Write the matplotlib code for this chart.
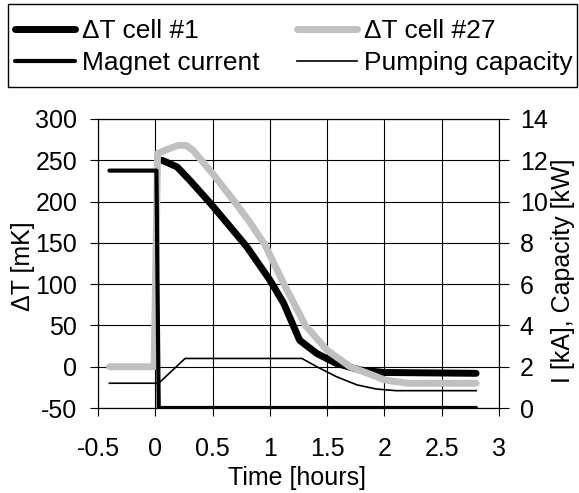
import matplotlib
matplotlib.use('Agg')
import matplotlib.pyplot as plt
from matplotlib.patches import Rectangle

plt.rcParams['font.family'] = ['Liberation Sans', 'DejaVu Sans']
plt.rcParams['axes.unicode_minus'] = False

# ---- data ----
# dT cell #1 [mK]
t_cell1 = [0.06, 0.19, 0.30, 0.48, 0.65, 0.80, 1.00, 1.12, 1.26, 1.41, 1.58, 1.79, 2.00, 2.80]
dT_cell1 = [250, 242, 226, 198, 170, 145, 105, 77, 32, 16, 4, -4, -7, -8]

# dT cell #27 [mK]
t_cell27 = [-0.40, -0.01, 0.02, 0.10, 0.20, 0.27, 0.33, 0.50, 0.68, 0.83, 0.96, 1.12,
            1.31, 1.50, 1.70, 1.93, 2.00, 2.20, 2.80]
dT_cell27 = [0, 0, 258, 263, 268, 268, 262, 234, 202, 174, 147, 101,
             50, 20, 0, -12, -16, -20, -20]

# magnet current [kA]
t_mag = [-0.40, 0.01, 0.03, 2.80]
i_mag = [11.5, 11.5, 0.0, 0.0]

# pumping capacity [kW]
t_pump = [-0.40, 0.03, 0.26, 1.28, 1.41, 1.58, 1.76, 1.93, 2.10, 2.80]
p_pump = [1.2, 1.2, 2.4, 2.4, 2.0, 1.52, 1.12, 0.92, 0.84, 0.84]

fs = 18
W, H = 579, 493

fig = plt.figure(figsize=(5.79, 4.93), dpi=100)
ax = fig.add_axes([98 / W, 1 - 408 / H, (499 - 98) / W, (408 - 119) / H])
ax2 = ax.twinx()

l1, = ax.plot(t_cell1, dT_cell1, color='black', lw=5, solid_capstyle='round')
l2, = ax.plot(t_cell27, dT_cell27, color='#c0c0c0', lw=5, solid_capstyle='round')
l3, = ax2.plot(t_mag, i_mag, color='black', lw=3, solid_capstyle='round')
l4, = ax2.plot(t_pump, p_pump, color='black', lw=1.2)

ax.set_xlim(-0.5, 3)
ax.set_ylim(-50, 300)
ax2.set_ylim(0, 14)
ax.set_xticks([-0.5, 0, 0.5, 1, 1.5, 2, 2.5, 3])
ax.set_xticklabels(['-0.5', '0', '0.5', '1', '1.5', '2', '2.5', '3'])
ax.set_yticks(range(-50, 301, 50))
ax2.set_yticks(range(0, 15, 2))

ax.grid(True, color='black', lw=0.8)
for a in (ax, ax2):
    for s in a.spines.values():
        s.set_color('black')
        s.set_linewidth(0.8)
ax.tick_params(axis='x', direction='out', length=6, width=0.8, pad=15, labelsize=fs)
ax.tick_params(axis='y', direction='out', length=6, width=0.8, pad=9, labelsize=fs)
ax2.tick_params(axis='y', direction='out', length=7, width=0.8, pad=8, labelsize=fs)

fig.text(23 / W, 1 - 266 / H, '\u0394T [mK]', rotation=90, ha='center', va='center', fontsize=fs)
fig.text(563 / W, 1 - 271 / H, 'I [kA], Capacity [kW]', rotation=90, ha='center', va='center', fontsize=fs)
fig.text(297 / W, 1 - 478 / H, 'Time [hours]', ha='center', va='center', fontsize=fs)

# legend box (frame drawn separately, Excel style)
fig.add_artist(Rectangle((8 / W, 1 - 87 / H), (577 - 8) / W, (87 - 4) / H,
                         transform=fig.transFigure, fill=False, edgecolor='black', lw=1.0))
leg = fig.legend([l1, l3, l2, l4],
                 ['\u0394T cell #1', 'Magnet current', '\u0394T cell #27', 'Pumping capacity'],
                 ncol=2, loc='upper left', bbox_to_anchor=(15 / W, 1 - 19 / H),
                 borderaxespad=0, borderpad=0, frameon=False,
                 fontsize=19, handlelength=2.27, handletextpad=0.25,
                 labelspacing=0.3, columnspacing=1.45)

fig.savefig('out.png', dpi=100)
